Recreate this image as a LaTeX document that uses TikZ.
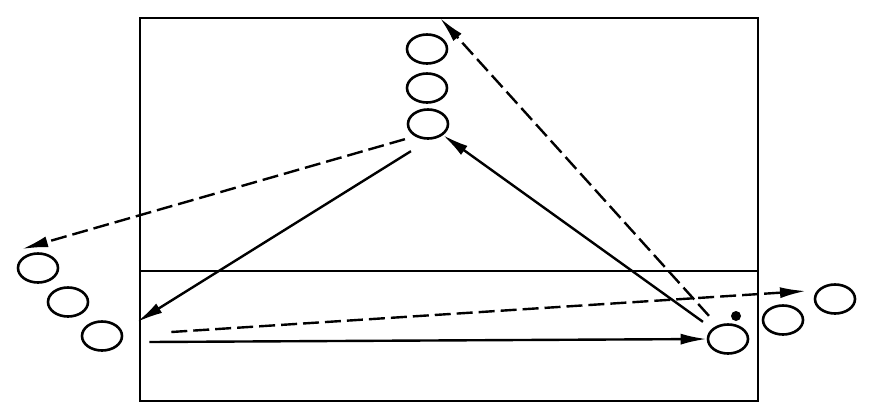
\documentclass[tikz,border=0pt]{standalone}
\usetikzlibrary{shapes.geometric,arrows.meta}
\tikzset{
    ball/.style={ellipse, draw, line width=2.6pt, minimum width=40pt, minimum height=29pt, inner sep=0pt},
    pass/.style={line width=2.4pt, -{Latex[length=26pt,width=11pt]}},
    run/.style={pass, dash pattern=on 16pt off 6pt}
}
\begin{document}
\begin{tikzpicture}[x=1pt, y=-1pt]
    \useasboundingbox (0,0) rectangle (870,405);
    % Pitch
    \draw[line width=2.6pt] (140,18) rectangle (758,401);
    \draw[line width=2pt] (140,271) -- (758,271);
    % Players
    \foreach \n/\x/\y in {t1/427/49, t2/427/88, t3/428/124,
                          l1/38/268, l2/68/302, l3/102/336,
                          r1/728/339, r2/783/320, r3/835/299}{
        \node[ball] (\n) at (\x,\y) {};
    }
    \fill (736,316) circle (5pt);
    % Free ends
    \coordinate (topend) at (440,18);
    \coordinate (leftend) at (22,249);
    \coordinate (boxend) at (137,322);
    \coordinate (rightend) at (806,291);
    % Passes and runs
    \draw[run] (t3.south west) ++(-8,4) -- (leftend);
    \draw[pass] (t3.south west) ++(-2,16) -- (boxend);
    \draw[pass] (r1.north west) ++(-10,-6) -- (t3.south east);
    \draw[run] (r1.north west) ++(-4,-12) -- (topend);
    \draw[run] (l3.east) ++(48,-4) -- (rightend);
    \draw[pass] (l3.east) ++(26,6) -- (r1.west);
\end{tikzpicture}
\end{document}
